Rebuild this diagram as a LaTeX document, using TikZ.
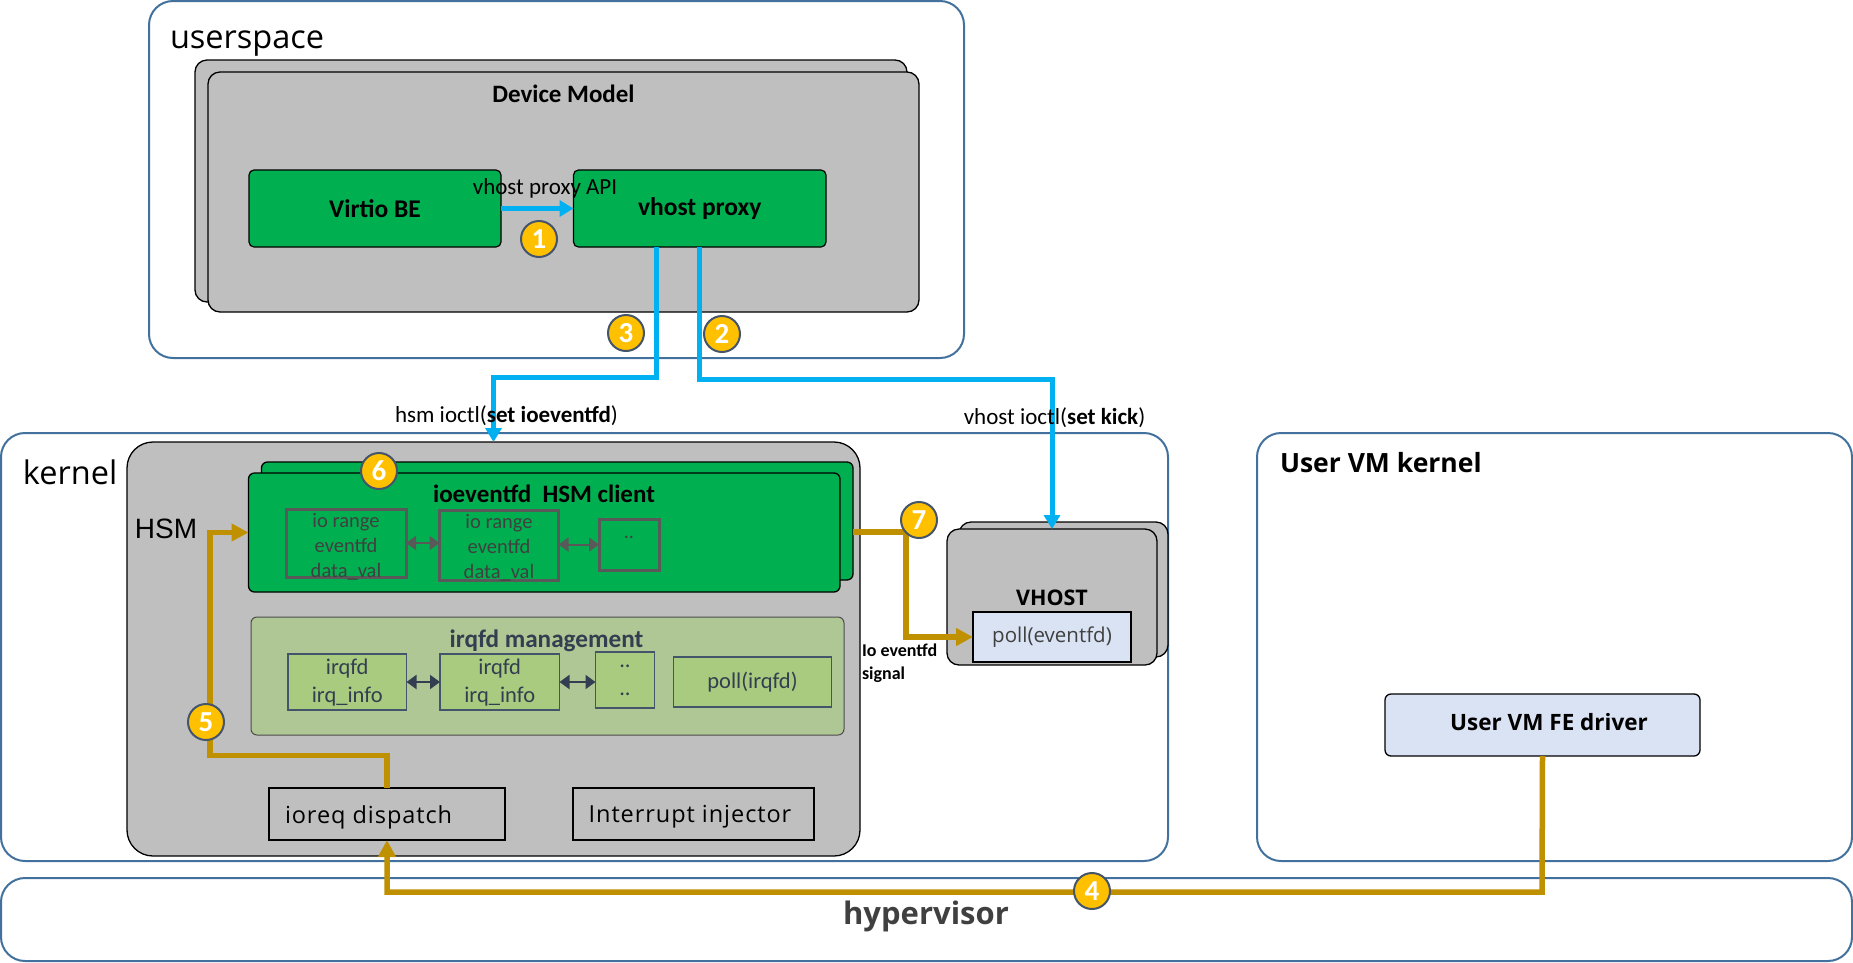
\documentclass[tikz,border=0pt]{standalone}
\usepackage{fontspec}
\setmainfont{Carlito}
\newfontfamily\opens{Open Sans}
\newfontfamily\opensp[LetterSpace=4]{Open Sans}
\newfontfamily\arial{Liberation Sans}
\usetikzlibrary{arrows.meta,calc}
\definecolor{kblue}{HTML}{41719C}
\definecolor{kgrey}{HTML}{BFBFBF}
\definecolor{kgreen}{HTML}{00B050}
\definecolor{ksky}{HTML}{00B0F0}
\definecolor{kgold}{HTML}{BF9000}
\definecolor{kamber}{HTML}{FFC000}
\definecolor{kslate}{HTML}{44546A}
\definecolor{kolive}{HTML}{AFC695}
\definecolor{kleaf}{HTML}{A9CB7F}
\definecolor{kpale}{HTML}{DAE3F3}
\definecolor{kdark}{HTML}{404040}
\definecolor{kink}{HTML}{333F50}
\definecolor{kgbox}{HTML}{595959}
\newcommand\bx[7][]{%
  \pgfmathsetmacro\bxw{#6-#4}\pgfmathsetmacro\bxh{#7-#5}%
  \pgfmathsetmacro\bxx{(#4+#6)/2}\pgfmathsetmacro\bxy{(#5+#7)/2}%
  \node[#1,minimum width=\bxw pt,minimum height=\bxh pt] (#3) at (\bxx,\bxy) {#2};}
\tikzset{
  every node/.style={inner sep=0pt,outer sep=0pt},
  region/.style={draw=kblue,line width=2pt,fill=white,rounded corners=24pt},
  greybox/.style={draw=black,line width=1.3pt,fill=kgrey,rounded corners=12pt},
  hsmbox/.style={draw=black,line width=1.3pt,fill=kgrey,rounded corners=26pt},
  greenbox/.style={draw=black,line width=1.2pt,fill=kgreen,rounded corners=5pt,font=\fontsize{25.5}{28}\selectfont\bfseries},
  oliveb/.style={draw=black!70,line width=1pt,fill=kolive,rounded corners=6pt},
  ioboxs/.style={draw=kgbox,line width=3pt},
  iotext/.style={text=kdark,align=center,font=\fontsize{20.5}{25}\selectfont},
  leafbox/.style={draw=kslate,line width=1.2pt,fill=kleaf,text=kink,align=center,font=\fontsize{22.5}{28}\selectfont},
  outlined/.style={draw=black,line width=2pt,font=\opensp\fontsize{23.5}{28}\selectfont},
  pale/.style={fill=kpale,draw=black,line width=1.3pt},
  badge/.style={circle,fill=kamber,draw=kslate,line width=2pt,minimum size=36pt,text=white,font=\fontsize{29}{30}\selectfont\bfseries},
  skyline/.style={draw=ksky,line width=5pt,-{Triangle[length=14pt,width=16pt]}},
  goldline/.style={draw=kgold,line width=5.5pt,-{Triangle[length=17pt,width=17pt]}},
  dblgrey/.style={draw=kgbox,line width=2pt,{Triangle[length=10pt,width=14pt]}-{Triangle[length=10pt,width=14pt]}},
  dblink/.style={draw=kink,line width=2pt,{Triangle[length=10pt,width=14pt]}-{Triangle[length=10pt,width=14pt]}},
  lab/.style={font=\fontsize{23}{28}\selectfont},
  head/.style={font=\opens\fontsize{32.5}{36}\selectfont},
}
\begin{document}
\begin{tikzpicture}[x=1pt,y=-1pt]
\useasboundingbox (0,0) rectangle (1853,962);
% regions
\bx[region]{}{userspace}{149}{1}{964}{358}
\bx[region]{}{kernel}{1}{433}{1168}{861}
\bx[region]{}{uvmk}{1257}{433}{1852}{861}
\bx[region]{}{hyper}{1}{878}{1852}{961}
% device model
\bx[greybox]{}{dmback}{195}{60}{907}{302}
\bx[greybox]{}{dm}{208}{72}{919}{312}
\bx[greenbox]{Virtio BE}{vb}{249}{170}{501}{247}
\bx[greenbox]{vhost proxy}{vp}{573.5}{170}{826}{247}
% HSM
\bx[hsmbox]{}{hsm}{127}{442}{860}{856}
\bx[greybox,fill=kgreen,rounded corners=6pt]{}{clback}{261.5}{462}{853}{580}
\bx[greybox,fill=kgreen,rounded corners=6pt]{}{client}{248.5}{473}{840}{592}
\bx[ioboxs]{}{io1}{286}{509}{406}{577}
\bx[ioboxs]{}{io2}{439.5}{510}{558.5}{580}
\bx[ioboxs]{}{io3}{599}{519}{659.5}{570}
\node[iotext] (tio1) at (346,547) {io range\\eventfd\\data\_val};
\node[iotext] (tio2) at (499,548) {io range\\eventfd\\data\_val};
\bx[oliveb]{}{irq}{251}{617}{844}{735}
\bx[leafbox]{irqfd\\irq\_info}{ir1}{288}{654}{406.5}{710}
\bx[leafbox]{irqfd\\irq\_info}{ir2}{440}{654}{559.5}{710}
\bx[leafbox]{..\\..}{ir3}{595.5}{652}{654.5}{708}
\bx[leafbox]{poll(irqfd)}{ir4}{673.5}{657}{831.5}{707}
\bx[outlined]{}{ioreq}{269}{788}{505}{840}
\bx[outlined]{}{inj}{573}{788}{814}{840}
% vhost
\bx[greybox]{}{vhback}{959}{522}{1168}{657}
\bx[greybox]{}{vhost}{947}{529}{1157}{665}
\bx[pale,text=kdark,font=\opens\fontsize{20.5}{24}\selectfont]{poll(eventfd)}{poll}{973}{612}{1131}{662}
% FE driver
\bx[pale,rounded corners=6pt]{}{fe}{1385}{694}{1700}{756}
% connectors
\coordinate (e3) at (656.6,377);
\coordinate (e2) at (699.5,379);
\coordinate (e4) at (1542,892);
\coordinate (e5) at (210,755.7);
\coordinate (e7) at (906,532);
\draw[skyline] (vb.east) -- (vp.west);
\draw[skyline] (e3 |- vp.south) -- (e3) -| (hsm.north);
\draw[skyline] (vp.south) |- (e2 -| vhost.north) -- (vhost.north);
\draw[goldline] (fe.south) -- (e4) -| (ioreq.south);
\draw[goldline] (ioreq.north) |- (e5) |- (client.west);
\draw[goldline] (clback.east |- e7) -- (e7) |- (poll.west);
\draw[dblgrey] (io1.east) -- (io2.west |- io1.east);
\draw[dblgrey] (io2.east |- io3.west) -- (io3.west);
\draw[dblink] (ir1.east) -- (ir2.west);
\draw[dblink] (ir2.east) -- (ir3.west |- ir2.east);
% labels
\node[head,anchor=west] (tuser) at (170,44) {userspace};
\node[head,anchor=west] (tkern) at (23,472) {kernel};
\node[anchor=west,font=\opens\fontsize{26.5}{30}\selectfont\bfseries] (tuvm) at (1280,463) {User VM kernel};
\node[font=\opens\fontsize{31}{36}\selectfont\bfseries,text=kdark] (thyp) at (926,916) {hypervisor};
\node[font=\fontsize{25}{30}\selectfont\bfseries] (tdm) at (563.5,94) {Device Model};
\node[lab] (tapi) at (545,188) {vhost proxy API};
\node[lab] (thioc) at (506.5,416) {hsm ioctl(\textbf{set ioeventfd})};
\node[lab] (tvioc) at (1054.5,418) {vhost ioctl(\textbf{set kick})};
\node[font=\arial\fontsize{28}{32}\selectfont] (thsm) at (166,529) {HSM};
\node[font=\fontsize{25}{28}\selectfont\bfseries] (tcl) at (544,494) {ioeventfd\ \ HSM client};
\node[font=\fontsize{25.2}{28}\selectfont\bfseries,text=kink] (tirq) at (546.5,641) {irqfd management};
\node[text=kdark,font=\fontsize{20}{24}\selectfont] (tdots) at (629,537) {..};
\node[font=\opens\fontsize{21.5}{30}\selectfont\bfseries] (tvh) at (1052,598) {VHOST};
\node[anchor=north west,align=left,font=\fontsize{18}{22.5}\selectfont\bfseries] (tsig) at (862,644) {Io eventfd\\signal};
\node[font=\opensp\fontsize{23.5}{28}\selectfont,anchor=west] (tio) at (285,817) {ioreq dispatch};
\node[font=\opensp\fontsize{23.5}{28}\selectfont] (tinj) at (690,817) {Interrupt injector};
\node[font=\opens\fontsize{22.5}{25}\selectfont\bfseries] (tfe) at (1549,722) {User VM FE driver};
% badges
\node[badge] (b1) at (539,239) {1};
\node[badge] (b2) at (722,334) {2};
\node[badge] (b3) at (626,333) {3};
\node[badge] (b4) at (1092,891) {4};
\node[badge] (b5) at (206,722) {5};
\node[badge] (b6) at (379,471) {6};
\node[badge] (b7) at (919,520) {7};
\end{tikzpicture}
\end{document}
